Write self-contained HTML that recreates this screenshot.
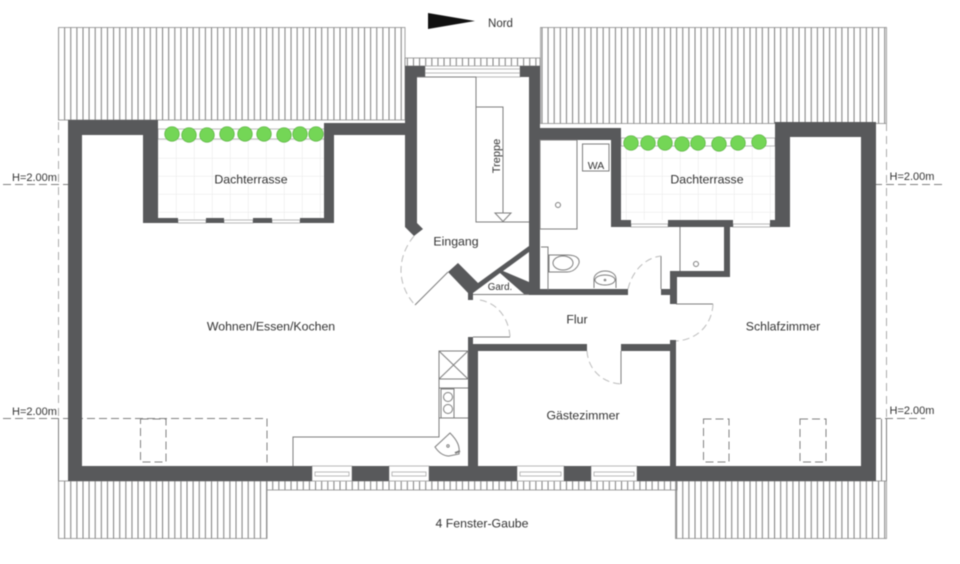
<!DOCTYPE html>
<html><head><meta charset="utf-8"><style>
html,body{margin:0;padding:0;background:#fff;width:960px;height:564px;overflow:hidden}
svg{display:block;filter:blur(.5px)}
text{font-family:"Liberation Sans",sans-serif;fill:#333;font-size:12.3px;text-anchor:middle}
.h{font-size:11px}
.w{fill:#58595b;stroke:none}
.l{fill:none;stroke:#7e7e7e;stroke-width:1}
.d{fill:none;stroke:#aaa;stroke-width:1;stroke-dasharray:8 5}
.dk{fill:none;stroke:#808080;stroke-width:1;stroke-dasharray:8 4}
.win{fill:#fff;stroke:#a8a8a8;stroke-width:.8}
.s{fill:#74d656;stroke:#5cb343;stroke-width:.7}
</style></head><body>
<svg width="960" height="564" viewBox="0 0 960 564" xmlns="http://www.w3.org/2000/svg">
<defs>
<pattern id="hx" x="58" y="0" width="6.12" height="10" patternUnits="userSpaceOnUse"><rect x="0" width="1" height="10" fill="#7d7d7d"/></pattern>
<pattern id="gr" x="158" y="140" width="18" height="18" patternUnits="userSpaceOnUse"><path d="M0 0H18M0 0V18" fill="none" stroke="#e8e8e8" stroke-width="1"/></pattern>
</defs>

<!-- roof hatching -->
<g stroke="#8c8c8c" stroke-width=".8">
<rect x="58.500" y="27.500" width="346.500" height="92.500" fill="url(#hx)"/>
<rect x="540.500" y="27.500" width="346" height="96" fill="url(#hx)"/>
<rect x="405" y="58" width="135" height="8" fill="url(#hx)"/>
<rect x="58.500" y="481" width="208.500" height="57.500" fill="url(#hx)"/>
<rect x="267" y="481" width="410" height="9" fill="url(#hx)"/>
<rect x="675.500" y="481" width="211" height="57.500" fill="url(#hx)"/>
</g>
<path d="M58.500 419V481M881.500 419V481M886.500 419V481" class="l"/>

<!-- terraces -->
<rect x="158" y="139" width="167" height="80" fill="#fff"/>
<rect x="158" y="139" width="167" height="80" fill="url(#gr)"/>
<rect x="158" y="129" width="167" height="10" fill="#fff" stroke="#aaa" stroke-width=".8"/>
<rect x="621" y="139" width="154" height="81" fill="#fff"/>
<rect x="621" y="139" width="154" height="81" fill="url(#gr)"/>
<rect x="621" y="138" width="154" height="8" fill="#fff" stroke="#aaa" stroke-width=".8"/>

<!-- dashed lines -->
<path class="d" d="M58.500 122V419M886.500 123V418"/>
<path class="dk" d="M3 184.500H82M862 184.500H942M3 418.500H267V466M861 418.500H925"/>
<rect class="dk" x="140.500" y="419" width="25.500" height="43"/>
<rect class="dk" x="703.500" y="419" width="25.500" height="43"/>
<rect class="dk" x="800" y="419" width="26" height="43"/>

<!-- windows -->
<g class="win">
<rect x="312" y="466" width="40" height="15"/><rect x="389" y="466" width="40" height="15"/>
<rect x="517" y="466" width="47" height="15"/><rect x="591" y="466" width="46" height="15"/>
<rect x="315" y="472" width="34" height="4"/><rect x="392" y="472" width="34" height="4"/>
<rect x="520" y="472" width="41" height="4"/><rect x="594" y="472" width="40" height="4"/>
<rect x="425" y="66" width="95" height="11"/><rect x="425" y="69" width="95" height="4"/>
<rect x="178" y="220" width="28" height="3"/><rect x="224" y="220" width="29" height="3"/><rect x="272" y="220" width="28" height="3"/>
<rect x="631" y="224" width="37" height="3"/><rect x="733" y="224" width="37" height="3"/>
</g>

<!-- walls -->
<g class="w">
<path d="M68 120H158V218H178V223H143V135H82V466H312V481H68Z"/>
<rect x="206" y="218" width="18" height="5"/><rect x="253" y="218" width="19" height="5"/>
<path d="M300 218H324V123H405V66H425V77H417V223L423 229L414 236L405 227V135H334V223H300Z"/>
<path d="M520 66H540V128H621V220H631V227H611V140H540V289H628V295H529V77H520Z"/>
<path d="M668 220H733V227H730V277H677V289H677V304H670V295H661V289H670V271H724V227H668Z"/>
<path d="M770 220H775V122H876V481H637V466H861V137H790V227H770Z"/>
<rect x="352" y="466" width="37" height="15"/>
<path d="M429 466H468V337H473V344H587V351H478V466H517V481H429Z"/>
<rect x="564" y="466" width="27" height="15"/>
<path d="M621 344H670V340H676V466H670V351H621Z"/>
<path d="M448 272L458 263L478 283L529 246V252L503 271L529 282V294H524L500 273L473 293V300H468V293Z"/>
</g>

<!-- thin lines / fixtures -->
<g class="l">
<path d="M417 77H476V222H529M476 107H503V213M473 294.500H529M448 272L415 305"/>
<path d="M495 213H511L503 221.500Z"/>
<rect x="540" y="140" width="37" height="89"/>
<rect x="582.500" y="144" width="26.500" height="27"/>
<circle cx="558" cy="205" r="2.500"/>
<path d="M541 247H548V290M549 255H567C578 255 582 260 577 267C574 271 570 272 567 272H549Z"/>
<ellipse cx="563" cy="263" rx="10" ry="7"/>
<path d="M594 288V279C594 274 600 271 605 271C611 271 616 274 616 279V288"/>
<ellipse cx="605" cy="280" rx="10" ry="5"/>
<circle cx="605" cy="280" r=".8"/>
<path d="M680 227V271"/>
<circle cx="696" cy="264" r="2.500"/>
<path d="M661 256V289M676 304H713M621 351V384M473 337H510"/>
<rect x="439" y="351" width="29" height="28"/>
<path d="M439 351L468 379M468 351L439 379M439 379V437H293V466M439 388H468M439 418H468"/>
<rect x="441" y="389" width="13" height="29"/>
<circle cx="448" cy="397" r="4.500"/><circle cx="448" cy="409" r="4.500"/>
<path d="M450 433L435 447C439 453 444 456 449 456L459 454C460 447 458 441 450 433Z"/>
<circle cx="448" cy="446" r="1.200"/>
<path d="M455 453L460 451" stroke-width="2"/>
</g>
<g class="d" style="stroke:#bbb;stroke-dasharray:7 4">
<path d="M414 236C396 258 397 285 415 305"/>
<path d="M628 289C632 272 644 258 661 256"/>
<path d="M480 300C497 303 509 318 510 337"/>
<path d="M713 304C712 325 697 340 676 341"/>
<path d="M587 351C588 369 602 383 621 384"/>
</g>

<!-- shrubs -->
<g class="s">
<circle cx="172" cy="134" r="7.300"/><circle cx="189" cy="135" r="7.300"/><circle cx="207" cy="135" r="7.300"/><circle cx="227" cy="134" r="7.300"/><circle cx="245" cy="134" r="7.300"/><circle cx="264" cy="134" r="7.300"/><circle cx="284" cy="135" r="7.300"/><circle cx="300" cy="134" r="7.300"/><circle cx="316" cy="134" r="7.300"/>
<circle cx="631" cy="143" r="7.300"/><circle cx="648" cy="143" r="7.300"/><circle cx="665" cy="143" r="7.300"/><circle cx="682" cy="144" r="7.300"/><circle cx="698" cy="143" r="7.300"/><circle cx="719" cy="144" r="7.300"/><circle cx="738" cy="143" r="7.300"/><circle cx="759" cy="142" r="7.300"/>
</g>

<!-- north arrow -->
<path d="M428 13L475 21L428 29Z" fill="#111"/>

<!-- labels -->
<text x="500.500" y="27" style="font-size:11.500px">Nord</text>
<text x="251" y="183.500">Dachterrasse</text>
<text x="707" y="183.500">Dachterrasse</text>
<text x="456" y="245.500">Eingang</text>
<text x="500" y="290" style="font-size:9.800px">Gard.</text>
<text x="596" y="169" style="font-size:10.500px">WA</text>
<text transform="translate(500 156) rotate(-90)" style="font-size:11px">Treppe</text>
<text x="271" y="330.500">Wohnen/Essen/Kochen</text>
<text x="577" y="323.500">Flur</text>
<text x="783" y="330.500">Schlafzimmer</text>
<text x="583" y="419.500">Gästezimmer</text>
<text x="482" y="527.500">4 Fenster-Gaube</text>
<text x="34.500" y="181" class="h">H=2.00m</text>
<text x="34.500" y="415" class="h">H=2.00m</text>
<text x="912" y="180" class="h">H=2.00m</text>
<text x="912" y="414" class="h">H=2.00m</text>
</svg>
</body></html>
